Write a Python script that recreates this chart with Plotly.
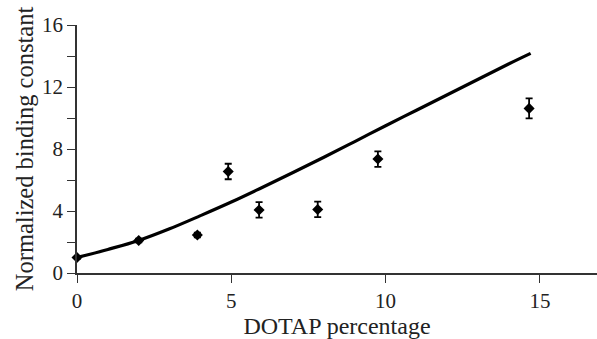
import plotly.graph_objects as go

# Measured data (DOTAP percentage vs normalized binding constant)
dotap_pct = [0.0, 2.0, 3.9, 4.9, 5.9, 7.8, 9.75, 14.65]
binding = [1.0, 2.1, 2.45, 6.55, 4.07, 4.1, 7.35, 10.62]
binding_err = [0.1, 0.12, 0.15, 0.5, 0.5, 0.5, 0.5, 0.65]

# Model curve
curve_x = [0, 1, 2, 3, 4, 5, 6, 7, 8, 9, 10, 11, 12, 13, 14, 14.7]
curve_y = [1.0, 1.52, 2.1, 2.85, 3.7, 4.58, 5.52, 6.48, 7.47, 8.48, 9.5, 10.5, 11.5, 12.5, 13.5, 14.17]

x_ticks = [0, 5, 10, 15]
y_ticks = [0, 4, 8, 12, 16]

font_family = "Liberation Serif"

fig = go.Figure()
fig.add_trace(go.Scatter(
    x=curve_x, y=curve_y, mode="lines",
    line=dict(color="black", width=3.2, shape="spline"),
    showlegend=False, hoverinfo="skip", cliponaxis=False,
))
fig.add_trace(go.Scatter(
    x=dotap_pct, y=binding, mode="markers",
    marker=dict(symbol="diamond", size=8.5, color="black"),
    error_y=dict(type="data", array=binding_err, visible=True,
                 color="black", thickness=1.8, width=3.5),
    showlegend=False, cliponaxis=False,
))

fig.update_layout(
    width=597, height=339,
    margin=dict(l=77, r=0, t=25, b=66),
    plot_bgcolor="white", paper_bgcolor="white",
    font=dict(family=font_family, size=21, color="#222"),
)
fig.update_xaxes(
    range=[0, 16.85], tickvals=x_ticks,
    showgrid=False, zeroline=False, showline=True, automargin=False,
    linecolor="#333", linewidth=1.5,
    ticks="outside", ticklen=8, tickwidth=1.3, tickcolor="#333",
    tickfont=dict(family=font_family, size=21, color="#222"),
    title=dict(text="DOTAP percentage", font=dict(family=font_family, size=24), standoff=6),
)
fig.update_yaxes(
    range=[0, 16], tickvals=y_ticks,
    showgrid=False, zeroline=False, showline=True, automargin=False,
    linecolor="#333", linewidth=1.5,
    ticks="outside", ticklen=8, tickwidth=1.3, tickcolor="#333",
    tickfont=dict(family=font_family, size=21, color="#222"),
    minor=dict(dtick=2, ticks="outside", ticklen=8, tickwidth=1.3, tickcolor="#333"),
    title=dict(text="Normalized binding constant", font=dict(family=font_family, size=24.5), standoff=1),
)

fig.write_html(
    "out.html",
    config={"displayModeBar": False},
    post_script="document.body.style.margin='0';document.body.style.padding='0';",
)
